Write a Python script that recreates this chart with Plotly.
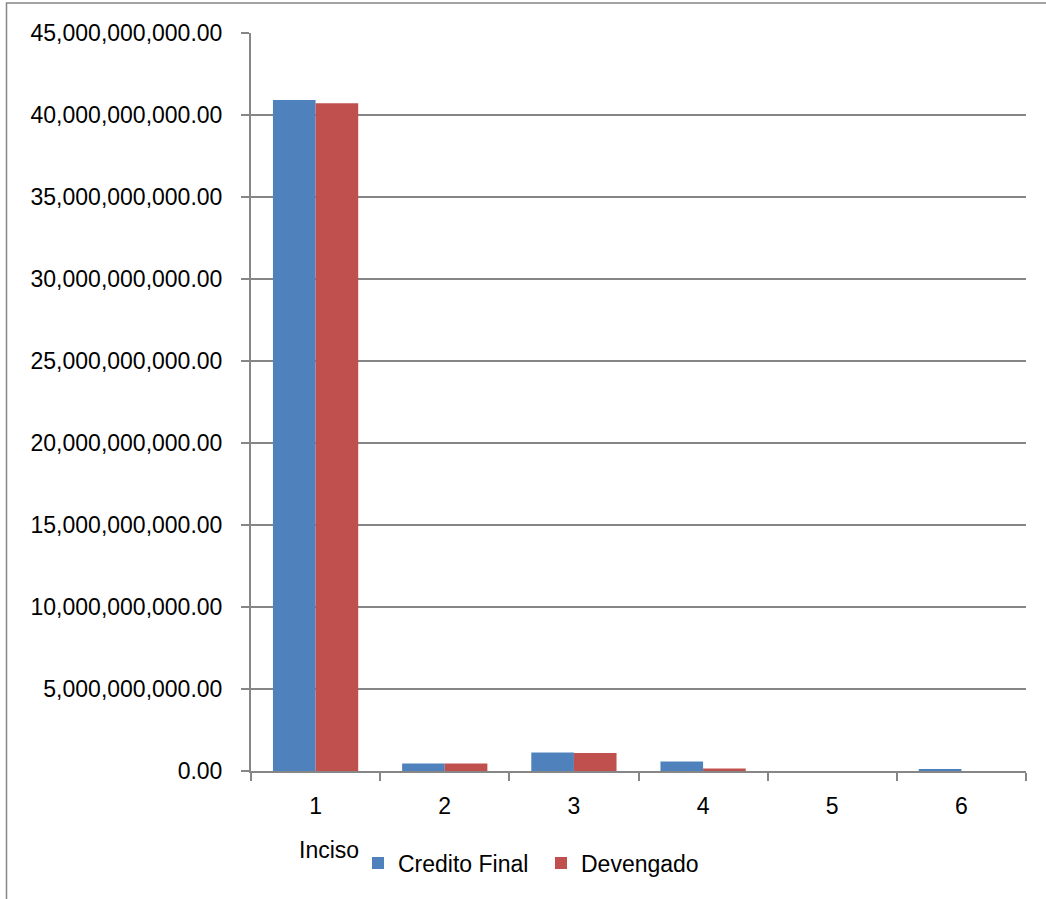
import plotly.graph_objects as go

categories = ["1", "2", "3", "4", "5", "6"]
credito_final = [40.91e9, 0.45e9, 1.13e9, 0.58e9, 0.0, 0.11e9]
devengado = [40.71e9, 0.45e9, 1.10e9, 0.16e9, 0.0, 0.0]
series_names = ["Credito Final", "Devengado"]
y_ticks = [i * 5e9 for i in range(10)]

FONT = "Liberation Sans"
W, H = 1046, 899
L, T = 251, 33
R = W - 1026
B = H - 771
pw, ph = W - L - R, H - T - B

def px_x(p):
    return (p - L) / pw

def px_y(p):
    return (H - B - p) / ph

fig = go.Figure()
fig.add_trace(go.Bar(x=categories, y=credito_final, name=series_names[0],
                     marker=dict(color="#4F81BD", line=dict(width=0))))
fig.add_trace(go.Bar(x=categories, y=devengado, name=series_names[1],
                     marker=dict(color="#C0504D", line=dict(width=0))))

fig.update_layout(
    width=W, height=H,
    margin=dict(l=L, r=R, t=T, b=B, autoexpand=False),
    paper_bgcolor="white", plot_bgcolor="white",
    barmode="group", bargap=0.34, bargroupgap=0,
    font=dict(family=FONT, size=23, color="black"),
    showlegend=True,
    legend=dict(orientation="h", x=px_x(358), y=px_y(863), xanchor="left", yanchor="middle",
                font=dict(size=23), itemwidth=30, tracegroupgap=0, entrywidth=138,
                bgcolor="rgba(0,0,0,0)"),
    xaxis=dict(type="category", showgrid=False, showline=True, linecolor="#868686", linewidth=2,
               ticks="outside", tickson="boundaries", ticklen=8, tickcolor="#868686", tickwidth=2,
               tickfont=dict(size=23), range=[-0.5, 5.5], ticklabelstandoff=13),
    yaxis=dict(range=[0, 45e9], tickvals=y_ticks, tickformat=",.2f", showgrid=True,
               gridcolor="#868686", gridwidth=1.5, showline=True, linecolor="#868686", linewidth=2,
               ticks="outside", ticklen=8, tickcolor="#868686", tickwidth=2, zeroline=False,
               tickfont=dict(size=23), ticklabelstandoff=14),
    annotations=[dict(text="Inciso", xref="paper", yref="paper", x=px_x(297), y=px_y(850),
                      xanchor="left", yanchor="middle", showarrow=False, font=dict(size=23))],
    shapes=[dict(type="rect", xref="paper", yref="paper", x0=px_x(6.5), x1=px_x(1080),
                 y0=px_y(940), y1=px_y(3), line=dict(color="#868686", width=1.5),
                 fillcolor="rgba(0,0,0,0)", layer="below")],
)

fig.write_html("out.html", config={"displayModeBar": False},
               post_script="document.body.style.margin='0px';document.body.style.overflow='hidden';")
